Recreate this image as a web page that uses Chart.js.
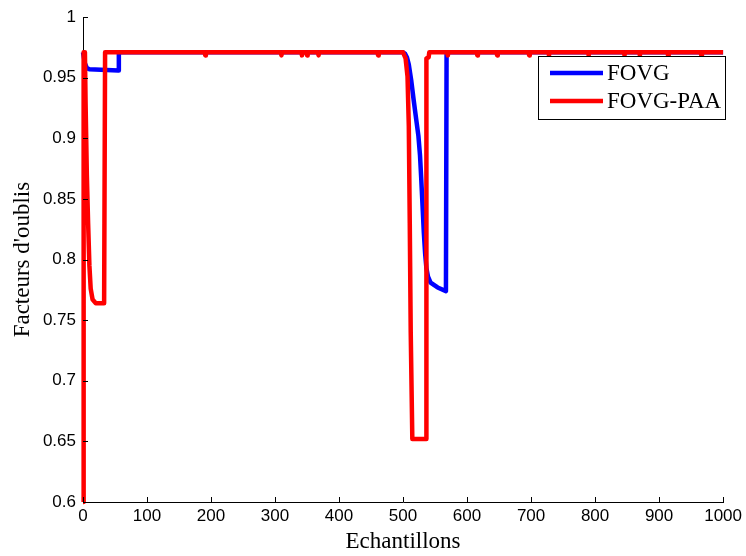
<!DOCTYPE html>
<html>
<head>
<meta charset="utf-8">
<script src="https://cdn.jsdelivr.net/npm/chart.js@4/dist/chart.umd.min.js"></script>
<style>
  html, body { margin: 0; padding: 0; background: #fff; }
  #wrap { width: 746px; height: 556px; }
</style>
</head>
<body>
<div id="wrap"><canvas id="c" width="746" height="556"></canvas></div>
<script>
// ---- Data ----
const seriesNames = ['FOVG', 'FOVG-PAA'];

const fovgX = [0, 3, 6, 10, 55, 56, 500, 503, 506, 509, 513, 516.5, 521, 524, 526.5, 528.5, 530.5, 532.5, 534.5, 536.5, 539, 543, 554, 567, 568, 1000];
const fovgY = [0.971, 0.962, 0.958, 0.957, 0.956, 0.971, 0.971, 0.970, 0.967, 0.961, 0.947, 0.932, 0.914, 0.902, 0.886, 0.866, 0.844, 0.822, 0.805, 0.793, 0.786, 0.781, 0.777, 0.774, 0.971, 0.971];

const paaX = [0, 1, 3, 4, 6, 8, 10, 12, 15, 20, 33, 34.5,
  190, 191, 192, 309, 310, 311, 341, 342, 343, 349, 350, 351, 367, 368, 369, 460, 461, 462,
  500, 504, 507, 509, 510.5, 512, 514.5, 536, 536.5, 540, 541,
  569, 570, 571, 615, 616, 617, 646, 647, 648, 696, 697, 698, 727, 728, 729,
  789, 790, 791, 845, 846, 847, 869, 870, 871, 913, 914, 915, 965, 966, 967, 1000];
const paaY = [0.600, 0.971, 0.971, 0.930, 0.870, 0.830, 0.795, 0.776, 0.767, 0.764, 0.764, 0.971,
  0.971, 0.9685, 0.971, 0.971, 0.9685, 0.971, 0.971, 0.9685, 0.971, 0.971, 0.9685, 0.971, 0.971, 0.9685, 0.971, 0.971, 0.9685, 0.971,
  0.971, 0.966, 0.951, 0.910, 0.830, 0.740, 0.652, 0.652, 0.966, 0.967, 0.971,
  0.971, 0.9685, 0.971, 0.971, 0.9685, 0.971, 0.971, 0.9685, 0.971, 0.971, 0.9685, 0.971, 0.971, 0.9685, 0.971,
  0.971, 0.9685, 0.971, 0.971, 0.9685, 0.971, 0.971, 0.9685, 0.971, 0.971, 0.9685, 0.971, 0.971, 0.9685, 0.971, 0.971];

const xTickValues = [0, 100, 200, 300, 400, 500, 600, 700, 800, 900, 1000];
const xTickLabels = ['0', '100', '200', '300', '400', '500', '600', '700', '800', '900', '1000'];
const yTickValues = [0.6, 0.65, 0.7, 0.75, 0.8, 0.85, 0.9, 0.95, 1];
const yTickLabels = ['0.6', '0.65', '0.7', '0.75', '0.8', '0.85', '0.9', '0.95', '1'];

const xTitle = 'Echantillons';
const yTitle = "Facteurs d'oublis";

// ---- Build datasets ----
const toPoints = (xs, ys) => xs.map((x, i) => ({ x: x, y: ys[i] }));
const colors = ['#0000ff', '#ff0000'];
const LW = 4.5;
const SERIF = '"Liberation Serif", "Times New Roman", serif';
const SANS = '"Liberation Sans", Arial, sans-serif';

const inwardTicksAndLegend = {
  id: 'inwardTicksAndLegend',
  afterDraw(chart) {
    const { ctx, chartArea, scales } = chart;
    const { left, bottom } = chartArea;
    ctx.save();
    ctx.strokeStyle = '#000';
    ctx.lineWidth = 1;
    ctx.beginPath();
    xTickValues.forEach(v => {
      const px = Math.round(scales.x.getPixelForValue(v)) + 0.5;
      ctx.moveTo(px, bottom);
      ctx.lineTo(px, bottom - 5);
    });
    yTickValues.forEach(v => {
      const py = Math.round(scales.y.getPixelForValue(v)) + 0.5;
      ctx.moveTo(left, py);
      ctx.lineTo(left + 5, py);
    });
    ctx.stroke();

    // legend box (inside plot, top-right)
    const bx = 538.5, by = 56.5, bw = 187, bh = 63;
    ctx.fillStyle = '#fff';
    ctx.fillRect(bx, by, bw, bh);
    ctx.strokeRect(bx, by, bw, bh);
    const rows = [73, 101];
    chart.data.datasets.forEach((ds, i) => {
      const ry = rows[i];
      ctx.strokeStyle = ds.borderColor;
      ctx.lineWidth = LW;
      ctx.beginPath();
      ctx.moveTo(550, ry);
      ctx.lineTo(603, ry);
      ctx.stroke();
      ctx.fillStyle = '#000';
      ctx.font = '23px ' + SERIF;
      ctx.textBaseline = 'middle';
      ctx.textAlign = 'left';
      ctx.fillText(ds.label, 607, ry + 1);
    });
    ctx.restore();
  }
};

new Chart(document.getElementById('c'), {
  type: 'line',
  data: {
    datasets: [
      { label: seriesNames[0], data: toPoints(fovgX, fovgY), borderColor: colors[0], backgroundColor: colors[0], borderWidth: LW, pointRadius: 0, tension: 0, order: 1, borderJoinStyle: 'round', clip: false },
      { label: seriesNames[1], data: toPoints(paaX, paaY), borderColor: colors[1], backgroundColor: colors[1], borderWidth: LW, pointRadius: 0, tension: 0, order: 0, borderJoinStyle: 'round', clip: false }
    ]
  },
  options: {
    responsive: false,
    animation: false,
    layout: { padding: { top: 14, right: 19, left: 0, bottom: 0 } },
    plugins: { legend: { display: false }, tooltip: { enabled: false } },
    scales: {
      x: {
        type: 'linear', min: 0, max: 1000,
        grid: { display: false, drawTicks: false },
        border: { display: true, color: '#000', width: 1 },
        afterBuildTicks: s => { s.ticks = xTickValues.map(v => ({ value: v })); },
        ticks: {
          color: '#000', padding: 4, maxRotation: 0, autoSkip: false,
          font: { family: SANS, size: 17 },
          callback: (v, i) => xTickLabels[i]
        },
        title: { display: true, text: xTitle, color: '#000', padding: { top: 0, bottom: 0 },
          font: { family: SERIF, size: 23 } },
        afterFit: s => { s.height = 54; }
      },
      y: {
        type: 'linear', min: 0.6, max: 1,
        grid: { display: false, drawTicks: false },
        border: { display: true, color: '#000', width: 1 },
        afterBuildTicks: s => { s.ticks = yTickValues.map(v => ({ value: v })); },
        ticks: {
          color: '#000', padding: 7, autoSkip: false,
          font: { family: SANS, size: 17 },
          callback: (v, i) => yTickLabels[i]
        },
        title: { display: true, text: yTitle, color: '#000', padding: { top: 9, bottom: 0 },
          font: { family: SERIF, size: 23 } },
        afterFit: s => { s.width = 83; }
      }
    }
  },
  plugins: [inwardTicksAndLegend]
});
</script>
</body>
</html>
